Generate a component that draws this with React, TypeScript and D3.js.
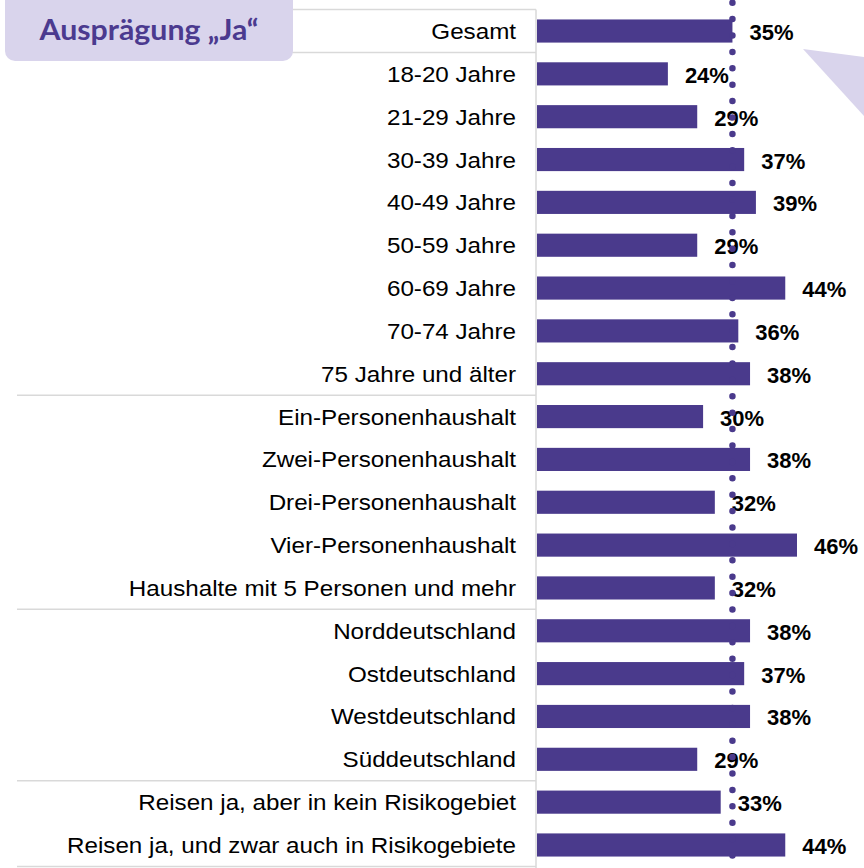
import * as d3 from 'd3';

// Kategorien und Werte (Ausprägung "Ja", in %)
const categories = [
  'Gesamt',
  '18-20 Jahre',
  '21-29 Jahre',
  '30-39 Jahre',
  '40-49 Jahre',
  '50-59 Jahre',
  '60-69 Jahre',
  '70-74 Jahre',
  '75 Jahre und älter',
  'Ein-Personenhaushalt',
  'Zwei-Personenhaushalt',
  'Drei-Personenhaushalt',
  'Vier-Personenhaushalt',
  'Haushalte mit 5 Personen und mehr',
  'Norddeutschland',
  'Ostdeutschland',
  'Westdeutschland',
  'Süddeutschland',
  'Reisen ja, aber in kein Risikogebiet',
  'Reisen ja, und zwar auch in Risikogebiete',
];
const values = [35, 24, 29, 37, 39, 29, 44, 36, 38, 30, 38, 32, 46, 32, 38, 37, 38, 29, 33, 44];
// Gruppengrenzen: Linie nach diesen Zeilen
const groupEnds = [0, 8, 13, 17, 19];
const referenceValue = 35;
// Achse beginnt nicht genau bei 0
const axisDomain = [1.7, 46];
const title = 'Ausprägung „Ja“';

const W = 864;
const H = 868;
const PURPLE = '#4a3a8c';
const LAVENDER = '#d9d4ec';
const GRID = '#d9d9d9';

export default function App() {
  const x = d3.scaleLinear().domain(axisDomain).range([537, 797]);
  const y = d3
    .scaleBand<string>()
    .domain(categories)
    .range([9.6, 866.4])
    .paddingInner(0.46)
    .paddingOuter(0.23);
  const step = y.step();
  const top = y.range()[0];
  const labelX = 516;
  const x0 = x(axisDomain[0]);

  return (
    <svg
      width={W}
      height={H}
      style={{ position: 'absolute', left: 0, top: 0, display: 'block' }}
      fontFamily="'Liberation Sans', Arial, sans-serif"
    >
      {/* Trennlinien */}
      <line x1={17} x2={536} y1={top} y2={top} stroke={GRID} strokeWidth={1.5} />
      {groupEnds.map((k) => (
        <line
          key={k}
          x1={17}
          x2={536}
          y1={top + (k + 1) * step}
          y2={top + (k + 1) * step}
          stroke={GRID}
          strokeWidth={1.5}
        />
      ))}
      <line x1={536} x2={536} y1={top} y2={H} stroke={GRID} strokeWidth={1.5} />

      {/* Titel-Box */}
      <rect x={5} y={-10} width={288} height={71} rx={10} fill={LAVENDER} />
      <text
        x={149}
        y={40}
        textAnchor="middle"
        fontFamily="Lato, 'Open Sans', sans-serif"
        fontWeight={700}
        fontSize={29}
        fill="#4b3a8f"
        textLength={219}
        lengthAdjust="spacingAndGlyphs"
      >
        {title}
      </text>

      {/* Callout-Dreieck */}
      <polygon points={`803,49 ${W},57 ${W},116`} fill={LAVENDER} />

      {/* Kategorien */}
      {categories.map((c) => {
        const cy = (y(c) ?? 0) + y.bandwidth() / 2;
        return (
          <text
            key={c}
            transform={`translate(${labelX},${cy + 8}) scale(1.1,1)`}
            textAnchor="end"
            fontSize={22}
            fill="#000"
          >
            {c}
          </text>
        );
      })}

      {/* Balken */}
      {categories.map((c, i) => (
        <rect
          key={c}
          x={x0}
          y={y(c)}
          width={x(values[i]) - x0}
          height={y.bandwidth()}
          fill={PURPLE}
        />
      ))}

      {/* Werte */}
      {categories.map((c, i) => {
        const cy = (y(c) ?? 0) + y.bandwidth() / 2;
        return (
          <text
            key={c}
            x={x(values[i]) + 17}
            y={cy + 9}
            fontSize={22}
            fontWeight={700}
            fill="#000"
          >
            {values[i]}%
          </text>
        );
      })}

      {/* Referenzlinie (Gesamt) */}
      <line
        x1={x(referenceValue)}
        x2={x(referenceValue)}
        y1={2.7}
        y2={H}
        stroke={PURPLE}
        strokeWidth={6.5}
        strokeLinecap="round"
        strokeDasharray="0 16.4"
      />
    </svg>
  );
}
